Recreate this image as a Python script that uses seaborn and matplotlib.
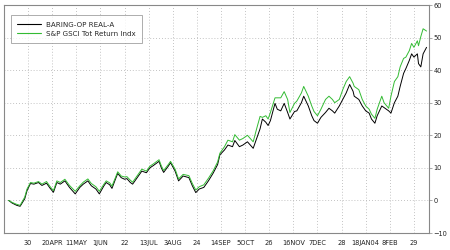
import matplotlib
matplotlib.use("Agg")
import matplotlib.pyplot as plt
import matplotlib.dates as mdates
import seaborn as sns
import pandas as pd

dates = [
    "2003-03-13", "2003-03-16", "2003-03-20", "2003-03-23", "2003-03-27", "2003-03-29",
    "2003-04-01", "2003-04-04", "2003-04-08", "2003-04-11", "2003-04-15", "2003-04-18",
    "2003-04-21", "2003-04-24", "2003-04-27", "2003-05-01", "2003-05-05", "2003-05-10",
    "2003-05-14", "2003-05-17", "2003-05-21", "2003-05-24", "2003-05-28", "2003-05-31",
    "2003-06-04", "2003-06-06", "2003-06-09", "2003-06-11", "2003-06-14", "2003-06-16",
    "2003-06-19", "2003-06-22", "2003-06-24", "2003-06-27", "2003-06-29", "2003-07-03",
    "2003-07-07", "2003-07-11", "2003-07-14", "2003-07-17", "2003-07-22", "2003-07-24",
    "2003-07-26", "2003-07-30", "2003-08-01", "2003-08-05", "2003-08-08", "2003-08-12",
    "2003-08-17", "2003-08-20", "2003-08-23", "2003-08-26", "2003-08-30", "2003-09-03",
    "2003-09-07", "2003-09-11", "2003-09-13", "2003-09-17", "2003-09-20", "2003-09-24",
    "2003-09-26", "2003-09-30", "2003-10-03", "2003-10-07", "2003-10-12", "2003-10-15",
    "2003-10-18", "2003-10-20", "2003-10-23", "2003-10-25", "2003-10-27", "2003-10-31",
    "2003-11-02", "2003-11-05", "2003-11-08", "2003-11-11", "2003-11-13", "2003-11-17",
    "2003-11-19", "2003-11-23", "2003-11-25", "2003-11-29", "2003-12-02", "2003-12-04",
    "2003-12-07", "2003-12-10", "2003-12-14", "2003-12-17", "2003-12-20", "2003-12-22",
    "2003-12-26", "2003-12-29", "2004-01-01", "2004-01-04", "2004-01-07", "2004-01-08",
    "2004-01-12", "2004-01-15", "2004-01-18", "2004-01-21", "2004-01-23", "2004-01-26",
    "2004-01-28", "2004-02-01", "2004-02-03", "2004-02-07", "2004-02-09", "2004-02-12",
    "2004-02-15", "2004-02-17", "2004-02-20", "2004-02-22", "2004-02-25", "2004-02-27",
    "2004-02-29", "2004-03-03", "2004-03-04", "2004-03-06", "2004-03-08", "2004-03-11",
]

baring = [
    0, -0.8, -1.5, -1.8, 0.5, 3,
    5.2, 5, 5.5, 4.6, 5.3, 3.8,
    2.5, 5.5, 5, 6, 4, 2,
    4, 5, 6, 4.5, 3.5, 2,
    4.5, 5.5, 4.8, 3.7, 6.5, 8.3,
    7, 6.5, 6.7, 5.5, 5, 7,
    9, 8.5, 10, 10.7, 12, 10,
    8.6, 10.5, 11.6, 9, 6, 7.5,
    7, 4.5, 2.4, 3.5, 4, 6,
    8.3, 11, 14, 15.5, 17, 16.5,
    18.4, 16.5, 17, 18, 16, 19,
    22, 25, 24, 23, 24.5, 29.8,
    28, 27.5, 29.8, 27, 25, 27.3,
    27.5, 30, 32, 29, 26, 24.5,
    23.7, 25.5, 27, 28.3, 27.5, 26.8,
    29, 31, 33, 35.6, 33.5, 32,
    31, 29, 27.5, 26.8, 25, 23.7,
    26, 29, 28.5, 27.5, 26.8, 30,
    32, 35, 39, 40.5, 43, 45,
    44, 45, 42, 41, 45, 47,
]

gsci = [
    0, -0.6, -1.2, -1.5, 1, 3.5,
    5.5, 5.3, 5.8, 5, 5.8, 4.3,
    3, 6, 5.5, 6.5, 4.6, 2.8,
    4.5, 5.6, 6.6, 5.2, 4.2, 2.8,
    5, 6, 5.4, 4.4, 7, 8.8,
    7.5, 7.2, 7.3, 6.2, 5.6, 7.6,
    9.6, 9, 10.5, 11.2, 12.5, 10.6,
    9.2, 11, 12, 9.6, 6.6, 8,
    7.6, 5.2, 3.2, 4.2, 4.8, 6.8,
    9, 11.8, 14.5, 16.5, 18.5, 18,
    20.2, 18.5, 19, 20, 18, 22,
    25.8, 25.5, 26, 25, 27, 31.5,
    31.5, 31.5, 33.4, 31, 27, 29.8,
    30.5, 33, 35, 32, 29, 27.3,
    26, 28, 31, 32, 31, 30,
    31, 34, 36.5, 38, 36, 35,
    34, 31, 29, 28, 26.5, 25.2,
    28, 32, 30, 28.3, 32, 36.5,
    38, 41, 43.6, 44, 46, 48.2,
    47, 49, 47.5, 50.3, 52.7, 52,
]

series_names = ["BARING-OP REAL-A", "S&P GSCI Tot Return Indx"]
series_colors = ["#000000", "#33bb33"]

tick_dates = [
    "2003-03-30", "2003-04-20", "2003-05-11", "2003-06-01", "2003-06-22", "2003-07-13",
    "2003-08-03", "2003-08-24", "2003-09-14", "2003-10-05", "2003-10-26", "2003-11-16",
    "2003-12-07", "2003-12-28", "2004-01-18", "2004-02-08", "2004-02-29",
]
tick_labels = [
    "30", "20APR", "11MAY", "1JUN", "22", "13JUL", "3AUG", "24", "14SEP", "5OCT",
    "26", "16NOV", "7DEC", "28", "18JAN04", "8FEB", "29",
]
y_ticks = [-10, 0, 10, 20, 30, 40, 50, 60]

df = pd.DataFrame({
    "date": pd.to_datetime(dates * 2),
    "value": baring + gsci,
    "series": [series_names[0]] * len(dates) + [series_names[1]] * len(dates),
})

sns.set_style("white")
plt.rcParams["font.family"] = ["DejaVu Sans"]

fig = plt.figure(figsize=(4.5, 2.5), dpi=100)
ax = fig.add_axes([0.009, 0.068, 0.944, 0.912])

sns.lineplot(data=df, x="date", y="value", hue="series", palette=series_colors,
             hue_order=series_names, linewidth=0.7, ax=ax, legend=True)

ax.set_xlim(pd.Timestamp("2003-03-09"), pd.Timestamp("2004-03-13"))
ax.set_ylim(-10, 60)
ax.set_xticks(pd.to_datetime(tick_dates))
ax.set_xticklabels(tick_labels)
ax.xaxis.set_minor_locator(mdates.WeekdayLocator(byweekday=mdates.SU))
ax.set_yticks(y_ticks)
ax.yaxis.tick_right()
ax.set_xlabel("")
ax.set_ylabel("")

ax.grid(True, which="major", color="#b0b0b0", linestyle=(0, (1, 2.5)), linewidth=0.6)
for s in ax.spines.values():
    s.set_color("#888888")
    s.set_linewidth(0.8)
ax.tick_params(axis="x", which="major", direction="in", length=4, width=0.5,
               colors="#888888", labelcolor="#222222", labelsize=4.8, pad=5)
ax.tick_params(axis="x", which="minor", direction="in", length=2, width=0.5, colors="#888888")
ax.tick_params(axis="y", which="major", direction="out", length=2, width=0.5,
               colors="#888888", labelcolor="#222222", labelsize=4.8, pad=1.2,
               right=True, left=False)

leg = ax.legend(loc="upper left", bbox_to_anchor=(0.008, 0.97), fontsize=5.1,
                frameon=True, fancybox=False, edgecolor="#888888",
                handlelength=3.4, handletextpad=0.6, borderpad=0.9, labelspacing=0.45)
leg.get_frame().set_linewidth(0.6)
for line in leg.get_lines():
    line.set_linewidth(0.8)

fig.savefig("out.png", dpi=100)
